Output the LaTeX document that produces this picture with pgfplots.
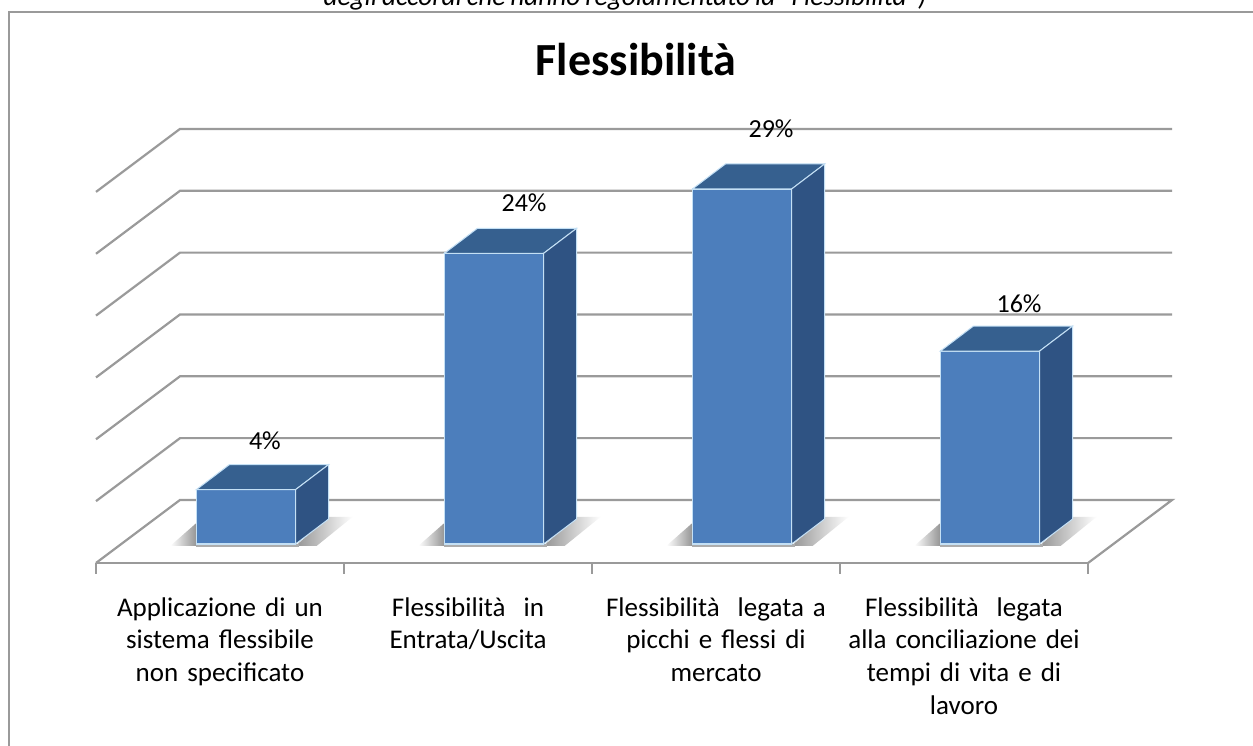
\documentclass[border=0pt]{standalone}
\usepackage{fontspec}
\setmainfont{Carlito}[WordSpace=0.8]
\usepackage{pgfplots}
\pgfplotsset{compat=1.18}
\definecolor{front}{HTML}{4C7EBC}
\definecolor{topf}{HTML}{36608F}
\definecolor{sidef}{HTML}{2F5383}
\definecolor{edge}{HTML}{C4E0F5}
\definecolor{gridc}{HTML}{9A9A9A}
\newcommand{\lab}[1]{\fontsize{#1}{#1}\selectfont}
\begin{document}
\begin{tikzpicture}[x=1pt,y=1pt]
\path[use as bounding box] (0,0) rectangle (1253,746);
\fill[white] (0,0) rectangle (1253,746);
\node[font=\lab{27.3}\itshape,anchor=base] at (625,740) {degli accordi che hanno regolamentato la “Flessibilità”)};
\draw[gridc,line width=2pt] (9,0) -- (9,734) -- (1253,734);
\node[font=\lab{46}\bfseries,anchor=base] at (636,670) {Flessibilità};
\begin{axis}[
    at={(96pt,183pt)},
    anchor=south west,
    scale only axis,
    width=992pt,
    height=434pt,
    xmin=-0.5, xmax=3.5,
    ymin=-1.536, ymax=33.55,
    clip=false,
    axis x line=bottom,
    axis y line=none,
    x axis line style={-,gridc,line width=2.2pt},
    xtick={0,1,2,3},
    minor xtick={-0.5,0.5,1.5,2.5,3.5},
    major tick length=0pt,
    minor tick length=11pt,
    tick align=outside,
    minor tick style={gridc,line width=1.2pt},
    xticklabels={
        {Applicazione di un\\sistema flessibile\\non specificato},
        {Flessibilità\ \ in\\Entrata/Uscita},
        {Flessibilità\ \ legata a\\picchi e flessi di\\mercato},
        {Flessibilità\ \ legata\\alla conciliazione dei\\tempi di vita e di\\lavoro}},
    xticklabel style={font=\fontsize{27}{32.7}\selectfont,text width=240pt,align=center,anchor=north,yshift=-31pt},
]
% back wall and side wall, one polyline per 5 points
\addplot[gridc,line width=2.2pt] coordinates {(-0.5,-1.536) (-0.1613,3.557) (3.8387,3.557) (3.5,-1.536)};
\addplot[gridc,line width=2.2pt] coordinates {(-0.5,3.464) (-0.1613,8.557) (3.8387,8.557)};
\addplot[gridc,line width=2.2pt] coordinates {(-0.5,8.464) (-0.1613,13.557) (3.8387,13.557)};
\addplot[gridc,line width=2.2pt] coordinates {(-0.5,13.464) (-0.1613,18.557) (3.8387,18.557)};
\addplot[gridc,line width=2.2pt] coordinates {(-0.5,18.464) (-0.1613,23.557) (3.8387,23.557)};
\addplot[gridc,line width=2.2pt] coordinates {(-0.5,23.464) (-0.1613,28.557) (3.8387,28.557)};
\addplot[gridc,line width=2.2pt] coordinates {(-0.5,28.464) (-0.1613,33.557) (3.8387,33.557)};

% shadows on the floor
\pgfplotsinvokeforeach{0,1,2,3}{
  \shade[left color=white,right color=black!42] (axis cs:#1-0.2,-0.15) -- (axis cs:#1-0.095,-0.15) -- (axis cs:#1-0.095,1.7) -- cycle;
  \shade[left color=black!42,right color=white] (axis cs:#1+0.305,-0.15) -- (axis cs:#1+0.438,2.2) -- (axis cs:#1+0.535,2.2) -- (axis cs:#1+0.39,-0.15) -- cycle;
  \fill[black!32] (axis cs:#1-0.095,-0.28) rectangle (axis cs:#1+0.32,0);
}

% fronts
\addplot[ybar,bar width=99pt,bar shift=26pt,fill=front,draw=edge,line width=1.8pt]
    coordinates {(0,4.4) (1,23.5) (2,28.7) (3,15.6)};

% top and side faces
\addplot[fill=topf,draw=edge,line width=1pt] coordinates {(-0.095,4.4) (0.305,4.4) (0.438,6.42) (0.038,6.42)} -- cycle;
\addplot[fill=sidef,draw=edge,line width=1pt] coordinates {(0.305,4.4) (0.438,6.42) (0.438,2.02) (0.305,0)} -- cycle;
\addplot[fill=topf,draw=edge,line width=1pt] coordinates {(0.905,23.5) (1.305,23.5) (1.438,25.52) (1.038,25.52)} -- cycle;
\addplot[fill=sidef,draw=edge,line width=1pt] coordinates {(1.305,23.5) (1.438,25.52) (1.438,2.02) (1.305,0)} -- cycle;
\addplot[fill=topf,draw=edge,line width=1pt] coordinates {(1.905,28.7) (2.305,28.7) (2.438,30.72) (2.038,30.72)} -- cycle;
\addplot[fill=sidef,draw=edge,line width=1pt] coordinates {(2.305,28.7) (2.438,30.72) (2.438,2.02) (2.305,0)} -- cycle;
\addplot[fill=topf,draw=edge,line width=1pt] coordinates {(2.905,15.6) (3.305,15.6) (3.438,17.62) (3.038,17.62)} -- cycle;
\addplot[fill=sidef,draw=edge,line width=1pt] coordinates {(3.305,15.6) (3.438,17.62) (3.438,2.02) (3.305,0)} -- cycle;

% value labels
\node[font=\lab{26}] at (axis cs:0.181,8.33) {4\%};
\node[font=\lab{26}] at (axis cs:1.226,27.57) {24\%};
\node[font=\lab{26}] at (axis cs:2.222,33.55) {29\%};
\node[font=\lab{26}] at (axis cs:3.222,19.40) {16\%};
\end{axis}
\end{tikzpicture}
\end{document}
